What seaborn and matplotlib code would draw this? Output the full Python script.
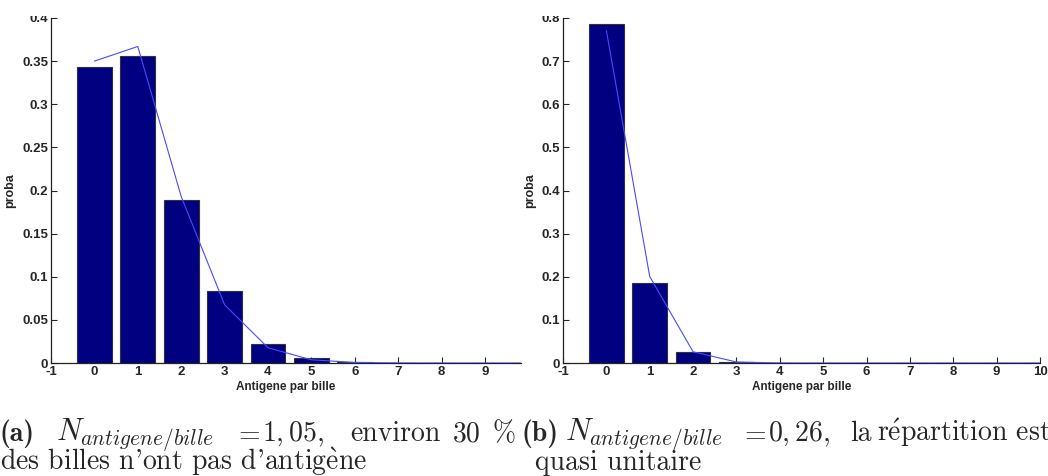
import matplotlib
matplotlib.use("Agg")
import matplotlib.pyplot as plt
import seaborn as sns
from matplotlib.patches import Rectangle

# nombre d'antigenes par bille
antigenes = [0, 1, 2, 3, 4, 5, 6, 7, 8, 9, 10]

# (a) N = 1,05 : histogramme simule + loi de Poisson
hist_a = [0.343, 0.356, 0.189, 0.083, 0.022, 0.0055, 0.0010, 0.0002, 0.0, 0.0, 0.0]
poisson_a = [0.350, 0.367, 0.193, 0.0675, 0.0177, 0.0037, 0.00065, 0.0001, 0.0, 0.0, 0.0]

# (b) N = 0,26
hist_b = [0.787, 0.185, 0.025, 0.0025, 0.0002, 0.0, 0.0, 0.0, 0.0, 0.0, 0.0]
poisson_b = [0.771, 0.2005, 0.026, 0.0023, 0.00015, 0.0, 0.0, 0.0, 0.0, 0.0, 0.0]

xticks_a = [-1, 0, 1, 2, 3, 4, 5, 6, 7, 8, 9]
xticks_b = [-1, 0, 1, 2, 3, 4, 5, 6, 7, 8, 9, 10]
yticks_a = [0, 0.05, 0.1, 0.15, 0.2, 0.25, 0.3, 0.35, 0.4]
ylabels_a = ["0", "0.05", "0.1", "0.15", "0.2", "0.25", "0.3", "0.35", "0.4"]
yticks_b = [0, 0.1, 0.2, 0.3, 0.4, 0.5, 0.6, 0.7, 0.8]
ylabels_b = ["0", "0.1", "0.2", "0.3", "0.4", "0.5", "0.6", "0.7", "0.8"]

sns.set_style("ticks")
plt.rcParams["font.family"] = ["Liberation Sans", "DejaVu Sans"]
plt.rcParams["mathtext.fontset"] = "cm"
plt.rcParams["axes.unicode_minus"] = False

W, H = 1048, 476
fig = plt.figure(figsize=(W / 100, H / 100), dpi=100)


def px_axes(x0, x1, y0, y1):
    # position en pixels (origine en haut a gauche)
    return fig.add_axes([x0 / W, 1 - y1 / H, (x1 - x0) / W, (y1 - y0) / H])


ax_a = px_axes(51, 521, 18, 363)
ax_b = px_axes(563, 1040, 18, 363)

panels = [
    (ax_a, hist_a, poisson_a, (-1, 9.83), (0, 0.4), xticks_a, yticks_a, ylabels_a),
    (ax_b, hist_b, poisson_b, (-1, 10), (0, 0.8), xticks_b, yticks_b, ylabels_b),
]

for ax, hist, pois, xlim, ylim, xt, yt, yl in panels:
    sns.barplot(x=antigenes, y=hist, native_scale=True, width=0.8, ax=ax,
                color="#000080", saturation=1, edgecolor="#303040", linewidth=0.8)
    sns.lineplot(x=antigenes, y=pois, ax=ax, color="#4a4aff", linewidth=0.8, zorder=5)
    ax.set_xlim(*xlim)
    ax.set_ylim(*ylim)
    ax.set_xticks(xt)
    ax.set_xticklabels([str(v) for v in xt])
    ax.set_yticks(yt)
    ax.set_yticklabels(yl)
    ax.tick_params(direction="in", length=4, width=0.8, pad=2, labelsize=9.5)
    for lab in ax.get_xticklabels() + ax.get_yticklabels():
        lab.set_fontweight("bold")
    ax.set_xlabel("Antigene par bille", fontsize=8.5, fontweight="bold", labelpad=2)
    ax.set_ylabel("proba", fontsize=9, fontweight="bold", labelpad=4)
    ax.spines["top"].set_visible(False)
    ax.spines["right"].set_visible(False)
    for s in ("left", "bottom"):
        ax.spines[s].set_linewidth(0.9)
        ax.spines[s].set_color("#222222")

# bord superieur rogne de l'eps
fig.patches.append(Rectangle((0, 1 - 15.5 / H), 1, 15.5 / H, transform=fig.transFigure,
                             facecolor="white", edgecolor="none", zorder=20))

serif = ["cmr10", "DejaVu Serif"]
bold = ["cmb10", "DejaVu Serif"]
fs = 20


def cap(x, y, s, family=serif, size=fs):
    fig.text(x / W, 1 - y / H, s, fontsize=size, family=family, va="baseline")


# legende (a)
y1, y2 = 441, 470
cap(0, y1, "(a)", family=bold)
cap(56, y1, r"$N_{antigene/bille}$", size=22)
cap(234, y1, r"$=$")
cap(262, y1, r"$1,05$,")
cap(350, y1, "environ")
cap(453, y1, "30")
cap(493, y1, "%")
cap(0, y2, r"des billes n'ont pas d'antig$\grave{\mathrm{e}}$ne")

# legende (b)
cap(522, y1, "(b)", family=bold)
cap(565, y1, r"$N_{antigene/bille}$", size=22)
cap(740, y1, r"$=$")
cap(768, y1, r"$0,26$,")
cap(850, y1, "la")
cap(877, y1, r"r$\acute{\mathrm{e}}$partition est")
cap(535, y2, "quasi unitaire")

fig.savefig("out.png", dpi=100)
